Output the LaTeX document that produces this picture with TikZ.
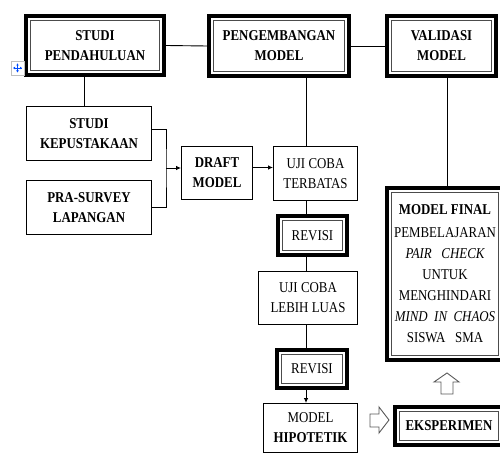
\documentclass[tikz,border=0pt]{standalone}
\usepackage{fontspec}
\setmainfont{Liberation Serif}[FakeStretch=0.86]
\usetikzlibrary{arrows.meta,calc}
\begin{document}
\begin{tikzpicture}[x=1pt,y=-1pt,
  txt/.style={align=center,font=\fontsize{15}{20}\selectfont},
  thin/.style={txt,draw,line width=0.9pt,inner sep=0pt},
  tk/.style={txt,draw,line width=4pt,inner sep=0pt,
    path picture={\draw[line width=1pt,gray!60!black]
      ([shift={(4.3pt,4.3pt)}]path picture bounding box.south west) rectangle
      ([shift={(-4.3pt,-4.3pt)}]path picture bounding box.north east);}},
  con/.style={line width=0.9pt},
  arr/.style={con,-{Latex[length=5pt,width=4.5pt]}},
  hollow/.style={draw=gray!70!black,line width=0.9pt,fill=white}
]
\useasboundingbox (0,0) rectangle (500,454);

% top row
\node[tk,minimum width=138,minimum height=59] (sp) at (95,45.5) {\bfseries STUDI\\\bfseries PENDAHULUAN};
\node[tk,minimum width=140,minimum height=60] (pm) at (279,46) {\bfseries PENGEMBANGAN\\\bfseries MODEL};
\node[tk,minimum width=109,minimum height=60] (vm) at (441.5,46) {\bfseries VALIDASI\\\bfseries MODEL};

% left column
\node[thin,minimum width=125,minimum height=54] (sk) at (89,133.5) {\bfseries STUDI\\\bfseries KEPUSTAKAAN};
\node[thin,minimum width=125,minimum height=54] (ps) at (89,207.5) {\bfseries PRA-SURVEY\\\bfseries LAPANGAN};
\node[thin,minimum width=71,minimum height=53] (dm) at (217,173) {\bfseries DRAFT\\\bfseries MODEL};

% middle column
\node[thin,minimum width=84,minimum height=54] (ut) at (315.5,173.5) {UJI COBA\\TERBATAS};
\node[tk,minimum width=69,minimum height=39] (r1) at (312.5,235.5) {REVISI};
\node[thin,minimum width=99,minimum height=53] (ul) at (308,298) {UJI COBA\\LEBIH LUAS};
\node[tk,minimum width=70,minimum height=38] (r2) at (312,369) {REVISI};
\node[thin,minimum width=94,minimum height=49] (mh) at (310.5,428) {MODEL\\\bfseries HIPOTETIK};

% right column
\node[tk,minimum width=116,minimum height=172,font=\fontsize{15}{21}\selectfont] (mf) at (445,274)
  {\bfseries MODEL FINAL\\[2pt]
   PEMBELAJARAN\\
   \itshape PAIR~~~CHECK\\
   UNTUK\\
   MENGHINDARI\\
   \itshape MIND~~IN~~CHAOS\\
   SISWA~~~SMA};
\node[tk,minimum width=108,minimum height=38] (ek) at (449,426) {\bfseries EKSPERIMEN};

% helper coordinates
\coordinate (bus) at (166,168);
\coordinate (vx) at (306,0);
\coordinate (vx2) at (447,0);
\coordinate (lx) at (84,0);

% connectors
\draw[con] (sp.east) -- (pm.west);
\draw[con] (pm.east) -- (vm.west);
\draw[con] (sp.south -| lx) -- (sk.north -| lx);
\draw[con] ([yshift=4.5pt]sk.east) -| (bus) |- (ps.east);
\draw[arr] (bus) -- (bus -| dm.west);
\draw[arr] ([yshift=5.5pt]dm.east) -- ([yshift=5.5pt]dm.east -| ut.west);
\draw[con] (pm.south -| vx) -- (ut.north -| vx);
\draw[con] (ut.south -| vx) -- (r1.north -| vx);
\draw[con] (r1.south -| vx) -- (ul.north -| vx);
\draw[con] (ul.south -| vx) -- (r2.north -| vx);
\draw[arr] (r2.south -| vx) -- (mh.north -| vx);
\draw[con] (vm.south -| vx2) -- (mf.north -| vx2);

% hollow block arrows
\draw[hollow] (447,373) -- (459,382) -- (453,382) -- (453,394) -- (441,394) -- (441,382) -- (434,382) -- cycle;
\draw[hollow] (389,420) -- (379,433) -- (379,427) -- (370,427) -- (370,414) -- (379,414) -- (379,407) -- cycle;

% move handle icon
\draw[gray!50,fill=white,line width=0.6pt] (11,61) rectangle (24,75);
\begin{scope}[blue!70!cyan,line width=0.7pt]
\draw (13.5,68) -- (21.5,68);
\draw (17.5,64) -- (17.5,72);
\fill (13,68) -- (15,66.7) -- (15,69.3) -- cycle;
\fill (22,68) -- (20,66.7) -- (20,69.3) -- cycle;
\fill (17.5,63.5) -- (16.2,65.5) -- (18.8,65.5) -- cycle;
\fill (17.5,72.5) -- (16.2,70.5) -- (18.8,70.5) -- cycle;
\end{scope}
\end{tikzpicture}
\end{document}
